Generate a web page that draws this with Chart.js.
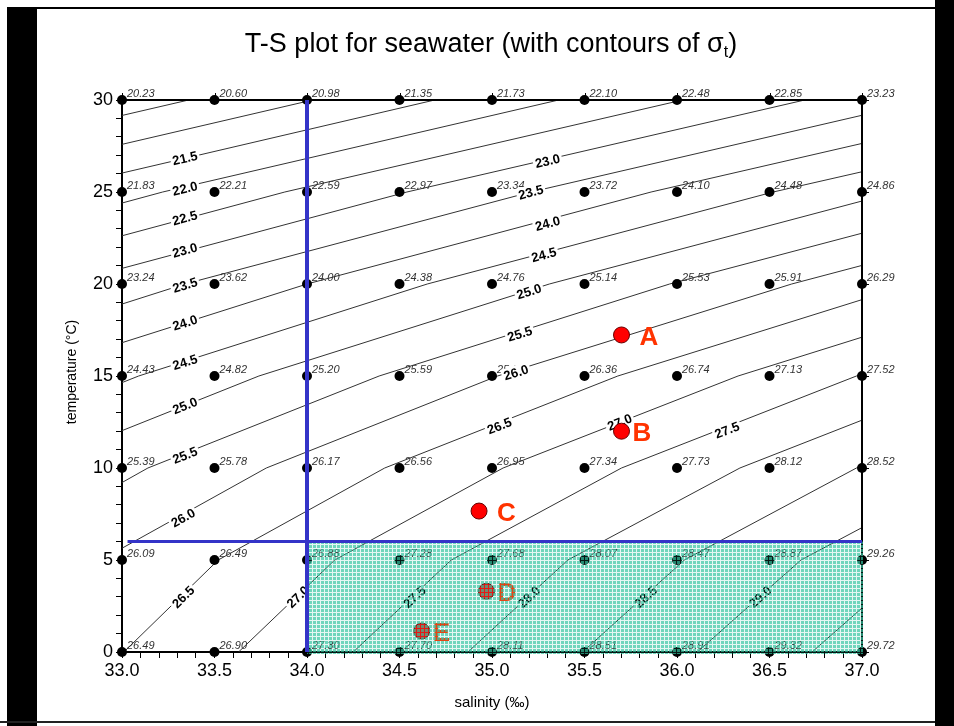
<!DOCTYPE html>
<html lang="en">
<head>
<meta charset="UTF-8" />
<title>T-S plot for seawater</title>
<script src="https://cdn.jsdelivr.net/npm/chart.js@4.4.1/dist/chart.umd.min.js"></script>
<style>
  html, body { margin: 0; padding: 0; background: #fff; }
  canvas { display: block; }
</style>
</head>
<body>
<canvas id="chart" width="954" height="726"></canvas>
<script>
// grid of salinity / temperature where sigma-t is printed
const salinity = [33.0, 33.5, 34.0, 34.5, 35.0, 35.5, 36.0, 36.5, 37.0];
const temperature = [0, 5, 10, 15, 20, 25, 30];

// sigma-t values at each grid dot, one row per temperature
const sigmaT0 = [26.49, 26.90, 27.30, 27.70, 28.11, 28.51, 28.91, 29.32, 29.72];
const sigmaT5 = [26.09, 26.49, 26.88, 27.28, 27.68, 28.07, 28.47, 28.87, 29.26];
const sigmaT10 = [25.39, 25.78, 26.17, 26.56, 26.95, 27.34, 27.73, 28.12, 28.52];
const sigmaT15 = [24.43, 24.82, 25.20, 25.59, 25.97, 26.36, 26.74, 27.13, 27.52];
const sigmaT20 = [23.24, 23.62, 24.00, 24.38, 24.76, 25.14, 25.53, 25.91, 26.29];
const sigmaT25 = [21.83, 22.21, 22.59, 22.97, 23.34, 23.72, 24.10, 24.48, 24.86];
const sigmaT30 = [20.23, 20.60, 20.98, 21.35, 21.73, 22.10, 22.48, 22.85, 23.23];
const sigmaRows = [sigmaT0, sigmaT5, sigmaT10, sigmaT15, sigmaT20, sigmaT25, sigmaT30];

// contour lines of sigma-t as [salinity, temperature]
const contourLevels = [20.5, 21.0, 21.5, 22.0, 22.5, 23.0, 23.5, 24.0, 24.5, 25.0,
  25.5, 26.0, 26.5, 27.0, 27.5, 28.0, 28.5, 29.0, 29.5];
const contourPaths = [
  [[33, 29.16], [33.36, 30]],
  [[33, 27.59], [34.03, 30]],
  [[33, 26.03], [34.69, 30]],
  [[33, 24.40], [33.22, 25], [35.36, 30]],
  [[33, 22.62], [33.88, 25], [36.03, 30]],
  [[33, 20.85], [34.54, 25], [36.69, 30]],
  [[33, 18.91], [33.34, 20], [35.21, 25], [37, 29.17]],
  [[33, 16.81], [34.00, 20], [35.86, 25], [37, 27.64]],
  [[33, 14.64], [33.09, 15], [34.65, 20], [36.52, 25], [37, 26.10]],
  [[33, 12.03], [33.74, 15], [35.31, 20], [37, 24.51]],
  [[33, 9.21], [33.14, 10], [34.39, 15], [35.96, 20], [37, 22.76]],
  [[33, 5.64], [33.78, 10], [35.03, 15], [36.62, 20], [37, 21.01]],
  [[33.01, 0], [33.52, 5], [34.42, 10], [35.68, 15], [37, 19.15]],
  [[33.63, 0], [34.15, 5], [35.06, 10], [36.33, 15], [37, 17.11]],
  [[34.25, 0], [34.78, 5], [35.70, 10], [36.97, 15], [37, 15.08]],
  [[34.87, 0], [35.41, 5], [36.34, 10], [37, 12.6]],
  [[35.49, 0], [36.04, 5], [36.97, 10], [37, 10.1]],
  [[36.11, 0], [36.67, 5], [37, 6.76]],
  [[36.73, 0], [37, 2.39]]
];

// contour labels
const labelText = ['21.5', '22.0', '22.5', '23.0', '23.5', '24.0', '24.5', '25.0', '25.5', '26.0', '26.5', '27.0',
  '23.0', '23.5', '24.0', '24.5', '25.0', '25.5', '26.0', '26.5', '27.0', '27.5', '28.0', '28.5', '29.0', '27.5'];
const labelSal = [33.34, 33.34, 33.34, 33.34, 33.34, 33.34, 33.34, 33.34, 33.34, 33.33, 33.33, 33.95,
  35.30, 35.21, 35.30, 35.28, 35.20, 35.15, 35.13, 35.04, 35.69, 36.27, 35.20, 35.83, 36.45, 34.58];
const labelTemp = [26.85, 25.2, 23.6, 21.85, 19.95, 17.9, 15.76, 13.4, 10.7, 7.3, 3.0, 3.0,
  26.7, 25.0, 23.3, 21.6, 19.6, 17.3, 15.2, 12.3, 12.5, 12.07, 3.0, 3.0, 3.0, 3.0];

// water samples
const sampleNames = ['A', 'B', 'C', 'D', 'E'];
const sampleSal = [35.70, 35.70, 34.93, 34.97, 34.62];
const sampleTemp = [17.23, 12.0, 7.66, 3.3, 1.14];

// shaded region and the blue guide lines
const boxSal = [34.0, 37.0];
const boxTemp = [0, 6];
const guideSal = 34.0;
const guideTemp = 6;

const FONT = '"Liberation Sans", Arial, sans-serif';
const letterDx = { A: 18, B: 11, C: 18, D: 11, E: 11 };

const gridDots = [];
temperature.forEach((t) => salinity.forEach((s) => gridDots.push({ x: s, y: t })));

const contourSets = contourPaths.map((path, i) => ({
  label: 'sigma ' + contourLevels[i],
  data: path.map(([s, t]) => ({ x: s, y: t })),
  showLine: true,
  pointRadius: 0,
  borderColor: '#333',
  borderWidth: 1,
  tension: 0,
}));

// teal cross-hatch: solid teal cells with see-through grid lines
function makeHatch(ctx) {
  const p = document.createElement('canvas');
  p.width = 4;
  p.height = 4;
  const g = p.getContext('2d');
  g.fillStyle = 'rgb(50,195,160)';
  g.fillRect(1, 1, 3, 3);
  g.fillStyle = 'rgba(50,195,160,0.18)';
  g.fillRect(0, 0, 4, 1);
  g.fillRect(0, 1, 1, 3);
  return ctx.createPattern(p, 'repeat');
}

const tsExtras = {
  id: 'tsExtras',
  beforeDraw(chart) {
    const c = chart.ctx;
    c.save();
    c.fillStyle = '#fff';
    c.fillRect(0, 0, chart.width, chart.height);
    c.fillStyle = '#000';
    c.fillRect(7, 7, 30, 719);
    c.fillRect(935, 0, 19, 726);
    c.fillRect(37, 7, 898, 2);
    c.fillStyle = '#222';
    c.fillRect(0, 721, 935, 2);
    c.restore();
  },
  beforeDatasetDraw(chart, args) {
    if (args.index !== 0) return;
    const c = chart.ctx;
    const x = chart.scales.x, y = chart.scales.y;
    c.save();
    // sigma-t values beside the dots
    c.font = 'italic 11px ' + FONT;
    c.fillStyle = '#333';
    c.textAlign = 'left';
    c.textBaseline = 'alphabetic';
    temperature.forEach((t, i) => {
      sigmaRows[i].forEach((v, j) => {
        c.fillText(v.toFixed(2), x.getPixelForValue(salinity[j]) + 5, y.getPixelForValue(t) - 3);
      });
    });
    // contour labels
    c.font = 'bold 13px ' + FONT;
    labelText.forEach((txt, i) => {
      const path = contourPaths[contourLevels.indexOf(parseFloat(txt))];
      const s = labelSal[i];
      let k = 0;
      while (k < path.length - 2 && path[k + 1][0] < s) k++;
      const dx = x.getPixelForValue(path[k + 1][0]) - x.getPixelForValue(path[k][0]);
      const dy = y.getPixelForValue(path[k + 1][1]) - y.getPixelForValue(path[k][1]);
      c.save();
      c.translate(x.getPixelForValue(s), y.getPixelForValue(labelTemp[i]));
      c.rotate(Math.atan2(dy, dx));
      const w = c.measureText(txt).width;
      c.fillStyle = '#fff';
      c.fillRect(-w / 2 - 2, -7, w + 4, 14);
      c.fillStyle = '#000';
      c.textAlign = 'center';
      c.textBaseline = 'middle';
      c.fillText(txt, 0, 1);
      c.restore();
    });
    c.restore();
  },
  afterDatasetsDraw(chart) {
    const c = chart.ctx;
    const x = chart.scales.x, y = chart.scales.y;
    const a = chart.chartArea;
    c.save();
    // top and right frame with ticks
    c.strokeStyle = '#000';
    c.lineWidth = 2;
    c.beginPath();
    c.moveTo(a.left, a.top);
    c.lineTo(a.right, a.top);
    c.lineTo(a.right, a.bottom);
    c.stroke();
    c.lineWidth = 1;
    salinity.forEach((s) => {
      const px = Math.round(x.getPixelForValue(s)) + 0.5;
      c.beginPath();
      c.moveTo(px, a.top);
      c.lineTo(px, a.top - 7);
      c.stroke();
    });
    temperature.forEach((t) => {
      const py = Math.round(y.getPixelForValue(t)) + 0.5;
      c.beginPath();
      c.moveTo(a.right, py);
      c.lineTo(a.right + 7, py);
      c.stroke();
    });
    // sample letters
    c.font = 'bold 26px ' + FONT;
    c.fillStyle = '#ff3300';
    c.textAlign = 'left';
    c.textBaseline = 'middle';
    sampleNames.forEach((n, i) => {
      c.fillText(n, x.getPixelForValue(sampleSal[i]) + letterDx[n], y.getPixelForValue(sampleTemp[i]) + 3);
    });
    // shaded box
    const bx0 = x.getPixelForValue(boxSal[0]), bx1 = x.getPixelForValue(boxSal[1]);
    const by0 = y.getPixelForValue(boxTemp[1]), by1 = y.getPixelForValue(boxTemp[0]);
    c.globalAlpha = 0.7;
    c.fillStyle = makeHatch(c);
    c.fillRect(bx0, by0, bx1 - bx0 + 1, by1 - by0 + 2);
    c.globalAlpha = 1;
    // blue guide lines
    c.strokeStyle = '#3434c8';
    c.lineWidth = 3;
    c.beginPath();
    c.moveTo(x.getPixelForValue(33.03), y.getPixelForValue(guideTemp));
    c.lineTo(x.getPixelForValue(37), y.getPixelForValue(guideTemp));
    c.stroke();
    c.lineWidth = 4;
    c.beginPath();
    c.moveTo(x.getPixelForValue(guideSal), y.getPixelForValue(0));
    c.lineTo(x.getPixelForValue(guideSal), y.getPixelForValue(30));
    c.stroke();
    // title with subscript
    const t1 = 'T-S plot for seawater (with contours of ';
    c.fillStyle = '#000';
    c.textBaseline = 'alphabetic';
    c.font = '27px ' + FONT;
    const w1 = c.measureText(t1).width, w2 = c.measureText('σ').width, w4 = c.measureText(')').width;
    c.font = '16px ' + FONT;
    const w3 = c.measureText('t').width;
    let tx = 491 - (w1 + w2 + w3 + w4) / 2;
    c.font = '27px ' + FONT;
    c.fillText(t1, tx, 52);
    tx += w1;
    c.fillText('σ', tx, 52);
    tx += w2;
    c.font = '16px ' + FONT;
    c.fillText('t', tx, 57);
    tx += w3;
    c.font = '27px ' + FONT;
    c.fillText(')', tx, 52);
    // axis titles
    c.textAlign = 'center';
    c.textBaseline = 'middle';
    c.font = '15px ' + FONT;
    c.fillText('salinity (‰)', 492, 703);
    c.save();
    c.translate(72, 372);
    c.rotate(-Math.PI / 2);
    c.font = '14px ' + FONT;
    c.fillText('temperature (°C)', 0, 0);
    c.restore();
    c.restore();
  }
};

const tickFont = { size: 18, family: FONT };

new Chart(document.getElementById('chart').getContext('2d'), {
  type: 'scatter',
  data: {
    datasets: [
      {
        label: 'samples',
        data: sampleSal.map((s, i) => ({ x: s, y: sampleTemp[i] })),
        pointRadius: 8,
        pointBackgroundColor: '#ff0000',
        pointBorderColor: '#660000',
        pointBorderWidth: 1,
        clip: false,
      },
      {
        label: 'grid',
        data: gridDots,
        pointRadius: 5,
        pointBackgroundColor: '#000',
        pointBorderColor: '#000',
        pointBorderWidth: 0,
        clip: false,
      },
      ...contourSets,
    ],
  },
  options: {
    responsive: false,
    animation: false,
    events: [],
    layout: { padding: { top: 100, right: 92, left: 0, bottom: 0 } },
    plugins: { legend: { display: false }, tooltip: { enabled: false } },
    scales: {
      x: {
        type: 'linear',
        min: 33,
        max: 37,
        ticks: {
          stepSize: 0.1,
          autoSkip: false,
          maxRotation: 0,
          minRotation: 0,
          color: '#000',
          font: tickFont,
          padding: 2,
          callback: (v) => (Math.abs(v * 2 - Math.round(v * 2)) < 1e-6 ? v.toFixed(1) : ''),
        },
        grid: { drawOnChartArea: false, drawTicks: true, tickLength: 6, color: '#000' },
        border: { color: '#000', width: 2 },
        afterFit: (s) => { s.height = 74; },
      },
      y: {
        type: 'linear',
        min: 0,
        max: 30,
        ticks: {
          stepSize: 1,
          autoSkip: false,
          color: '#000',
          font: tickFont,
          padding: 3,
          callback: (v) => (v % 5 === 0 ? String(v) : ''),
        },
        grid: { drawOnChartArea: false, drawTicks: true, tickLength: 6, color: '#000' },
        border: { color: '#000', width: 2 },
        afterFit: (s) => { s.width = 122; },
      },
    },
  },
  plugins: [tsExtras],
});
</script>
</body>
</html>
